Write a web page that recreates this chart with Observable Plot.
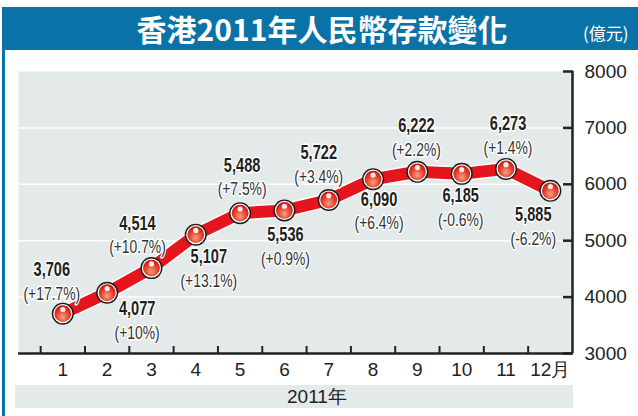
<!DOCTYPE html>
<html><head><meta charset="utf-8">
<script src="https://cdn.jsdelivr.net/npm/d3@7"></script>
<script src="https://cdn.jsdelivr.net/npm/@observablehq/plot@0.6"></script>
<style>
html,body{margin:0;padding:0;background:#fff;}
#wrap{position:relative;width:638px;height:416px;overflow:hidden;background:#fff;font-family:"Liberation Sans",Arial,sans-serif;}
#border{position:absolute;left:2px;top:7px;width:3px;height:409px;background:#0b72a8;}
#title{position:absolute;left:2px;top:7px;width:636px;height:43px;background:#0b72a8;color:#fff;}
#title .t{position:absolute;left:0;width:640px;top:3px;text-align:center;font-family:"Noto Sans CJK TC","Noto Sans CJK SC",sans-serif;font-weight:bold;font-size:30px;line-height:36px;}
#title .u{position:absolute;left:581px;top:14px;font-family:"Noto Sans CJK TC",sans-serif;font-size:17px;line-height:24px;}
#chart{position:absolute;left:0;top:50px;}
#band{position:absolute;left:15px;top:385px;width:558px;height:23px;background:#e4e9e9;}
#band span{position:absolute;left:272px;top:0;font-size:19px;line-height:23px;color:#222;}
</style></head>
<body>
<div id="wrap">
  <div id="border"></div>
  <div id="title"><div class="t">香港2011年人民幣存款變化</div><div class="u">(億元)</div></div>
  <div id="chart"></div>
  <div id="band"><span>2011年</span></div>
</div>
<script>
const months = [1,2,3,4,5,6,7,8,9,10,11,12];
const monthLabels = ["1","2","3","4","5","6","7","8","9","10","11","12月"];
const deposits = [3706,4077,4514,5107,5488,5536,5722,6090,6222,6185,6273,5885];
const changes = ["(+17.7%)","(+10%)","(+10.7%)","(+13.1%)","(+7.5%)","(+0.9%)","(+3.4%)","(+6.4%)","(+2.2%)","(-0.6%)","(+1.4%)","(-6.2%)"];
const yTicks = [3000,4000,5000,6000,7000,8000];

// label placement (layout only): horizontal shift and vertical offset of the value label
const labelDx = [-11,30,-14,13,2,1,-10,6,-1,-1,2,-17];
const labelDy = [-44,16,-45,22,-48,24,-47,20,-46,22,-45,24];

const data = months.map((m,i)=>({m, v:deposits[i], lab:d3.format(",")(deposits[i]), pct:changes[i], dx:labelDx[i], dy:labelDy[i]}));

const sans = "'Liberation Sans',Arial,sans-serif";

const valueMarks = data.map(d => Plot.text([d], {x:"m", y:"v", text:"lab", dx:d.dx, dy:d.dy, className:"condensed",
  fontFamily:sans, fontWeight:"bold", fontSize:20, fill:"#231f20", stroke:"white", strokeWidth:3}));
const pctMarks = data.map(d => Plot.text([d], {x:"m", y:"v", text:"pct", dx:d.dx, dy:d.dy+24, className:"condensed",
  fontFamily:sans, fontSize:19, fill:"#333", stroke:"white", strokeWidth:3}));

const svg = Plot.plot({
  width:638, height:333,
  marginLeft:18, marginRight:66, marginTop:21, marginBottom:30,
  style:{fontFamily:sans, color:"#222", background:"transparent"},
  x:{domain:[0,12.5], label:null},
  y:{domain:[3000,8000], label:null},
  marks:[
    Plot.frame({fill:"#e4e9e9", stroke:null}),
    Plot.ruleY(yTicks.slice(1,-1), {stroke:"white", strokeWidth:1.5}),
    Plot.axisY(yTicks, {anchor:"right", tickSize:-10, text:null, label:null, stroke:"#222", strokeWidth:2.5}),
    Plot.axisY(yTicks, {anchor:"right", tickSize:0, tickPadding:12, label:null, fontSize:19, fill:"#222", tickFormat:d=>String(d)}),
    Plot.axisX(months.map(m=>m-0.5), {anchor:"bottom", tickSize:-7, text:null, label:null, stroke:"#222", strokeWidth:2}),
    Plot.axisX(months, {anchor:"bottom", tickSize:0, tickPadding:9, label:null, fontSize:19, fill:"#222", tickFormat:d=>monthLabels[months.indexOf(d)]}),
    Plot.ruleY([3000], {stroke:"#222", strokeWidth:2.5}),
    Plot.ruleX([12.5], {y1:3000, y2:8000, stroke:"#222", strokeWidth:2.5}),
    Plot.line(data, {x:"m", y:"v", stroke:"white", strokeWidth:15, strokeLinejoin:"miter"}),
    Plot.line(data, {x:"m", y:"v", stroke:"#e5151d", strokeWidth:12, strokeLinejoin:"miter"}),
    ...valueMarks,
    ...pctMarks,
    Plot.dot(data, {x:"m", y:"v", r:11, fill:"#1a1a1a"}),
    Plot.dot(data, {x:"m", y:"v", r:9.6, fill:"white"}),
    Plot.dot(data, {x:"m", y:"v", r:8.4, fill:"url(#ballGrad)"}),
    Plot.dot(data, {x:"m", y:"v", r:2.6, dy:-4.2, fill:"white", fillOpacity:0.9})
  ]
});

// horizontally condense the data labels (narrow typeface look)
svg.querySelectorAll(".condensed text").forEach(t => {
  const tr = t.getAttribute("transform") || "";
  t.setAttribute("transform", tr + " scale(0.73,1)");
});

// gradient definition for the ball markers
const ns = "http://www.w3.org/2000/svg";
const defs = document.createElementNS(ns, "defs");
defs.innerHTML = `<radialGradient id="ballGrad" cx="50%" cy="62%" r="60%" fx="50%" fy="72%">
  <stop offset="0%" stop-color="#f7a488"/>
  <stop offset="55%" stop-color="#ec4a34"/>
  <stop offset="100%" stop-color="#c8150f"/>
</radialGradient>`;
svg.insertBefore(defs, svg.firstChild);
document.getElementById("chart").appendChild(svg);
</script>
</body></html>
